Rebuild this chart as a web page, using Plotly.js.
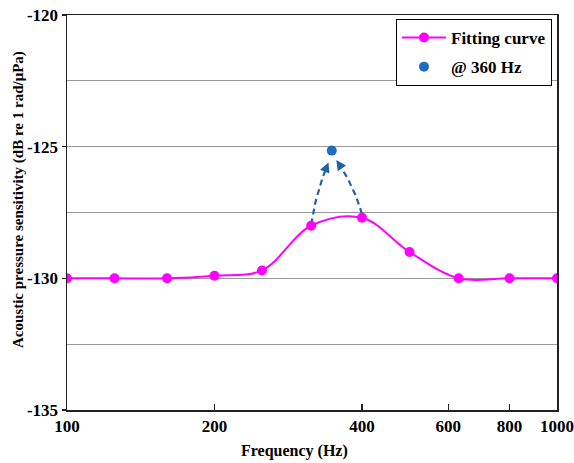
<!DOCTYPE html>
<html>
<head>
<meta charset="utf-8">
<script src="https://cdn.plot.ly/plotly-3.0.1.min.js"></script>
<style>html,body{margin:0;padding:0;background:#fff;}#chart{width:574px;height:463px;}</style>
</head>
<body>
<div id="chart"></div>
<script>
// ---- data ----
const freqHz = [100, 125, 160, 200, 250, 315, 400, 500, 630, 800, 1000];
const sensitivity = [-130.0, -130.0, -130.0, -129.9, -129.7, -128.0, -127.7, -129.0, -130.0, -130.0, -130.0];
const pointFreq = [347];
const pointSens = [-125.15];
const xTickVals = [100, 200, 400, 600, 800, 1000];
const xTickText = ['100', '200', '400', '600', '800', '1000'];
const yTickVals = [-135, -130, -125, -120];
const yTickText = ['-135', '-130', '-125', '-120'];
const arrowStartFreq = [315, 400];
const arrowStartSens = [-127.95, -127.55];

// ---- layout geometry ----
const W = 574, H = 463;
const M = {l: 67, r: 17, t: 15, b: 53};
const plotW = W - M.l - M.r, plotH = H - M.t - M.b;
const xRange = [2, 3], yRange = [-135, -120];
const pxPerDec = plotW / (xRange[1] - xRange[0]);
const pxPerUnit = plotH / (yRange[1] - yRange[0]);

const FONT = '"Liberation Serif", "Times New Roman", Times, serif';
const magenta = '#ff00ff';
const blue = '#1f6cc0';
const arrowBlue = '#1f62aa';

// curved dashed arrows (quadratic bezier in pixel space)
const arrowTraces = [];
const annots = [];
const bends = [-4, 5];
const stopFrac = [0.84, 0.85];
for (let i = 0; i < arrowStartFreq.length; i++) {
  const sx = Math.log10(arrowStartFreq[i]) * pxPerDec, sy = -arrowStartSens[i] * pxPerUnit;
  const tx0 = Math.log10(pointFreq[0]) * pxPerDec, ty0 = -pointSens[0] * pxPerUnit;
  const ex = sx + stopFrac[i] * (tx0 - sx), ey = sy + stopFrac[i] * (ty0 - sy);
  const dx = ex - sx, dy = ey - sy, len = Math.hypot(dx, dy);
  const nx = -dy / len, ny = dx / len;
  const cx = (sx + ex) / 2 + nx * bends[i], cy = (sy + ey) / 2 + ny * bends[i];
  const xs = [], ys = [];
  const N = 24;
  for (let k = 0; k <= N; k++) {
    const t = k / N;
    const px = (1 - t) * (1 - t) * sx + 2 * (1 - t) * t * cx + t * t * ex;
    const py = (1 - t) * (1 - t) * sy + 2 * (1 - t) * t * cy + t * t * ey;
    xs.push(Math.pow(10, px / pxPerDec));
    ys.push(-py / pxPerUnit);
  }
  arrowTraces.push({
    x: xs.slice(0, N - 1), y: ys.slice(0, N - 1), mode: 'lines', showlegend: false, hoverinfo: 'skip',
    line: {color: arrowBlue, width: 2.2, dash: '6px,4px'}
  });
  annots.push({
    x: Math.log10(xs[N]), y: ys[N], ax: Math.log10(xs[N - 3]), ay: ys[N - 3],
    xref: 'x', yref: 'y', axref: 'x', ayref: 'y', text: '', showarrow: true,
    arrowhead: 2, arrowsize: 1, arrowwidth: 2, arrowcolor: arrowBlue
  });
}

const traces = [
  ...arrowTraces,
  {
    x: freqHz, y: sensitivity, name: 'Fitting curve', mode: 'lines+markers',
    line: {color: magenta, width: 2, shape: 'spline', smoothing: 1},
    marker: {color: magenta, size: 10}, legendgroup: 'a'
  },
  {
    x: pointFreq, y: pointSens, name: '@ 360 Hz', mode: 'markers',
    marker: {color: blue, size: 10}, legendgroup: 'b'
  }
];

annots.push({
  xref: 'paper', yref: 'paper', x: (18 - M.l) / plotW, y: (M.t + plotH - 200) / plotH,
  text: 'Acoustic pressure sensitivity (dB re 1 rad/μPa)', textangle: -90, showarrow: false,
  font: {family: FONT, size: 15, color: '#000', weight: 700}, xanchor: 'center', yanchor: 'middle'
});
annots.push({
  xref: 'paper', yref: 'paper', x: (294 - M.l) / plotW, y: (M.t + plotH - 451) / plotH,
  text: 'Frequency (Hz)', showarrow: false,
  font: {family: FONT, size: 16, color: '#000', weight: 700}, xanchor: 'center', yanchor: 'middle'
});

const layout = {
  width: W, height: H, margin: M,
  paper_bgcolor: '#fff', plot_bgcolor: '#fff',
  font: {family: FONT, color: '#000'},
  showlegend: true,
  legend: {
    x: (396 - M.l) / plotW, y: (M.t + plotH - 19) / plotH, xanchor: 'left', yanchor: 'top',
    bgcolor: '#fff', bordercolor: '#000', borderwidth: 1,
    font: {family: FONT, size: 17, color: '#000', weight: 700},
    traceorder: 'grouped', tracegroupgap: 4, itemwidth: 44
  },
  xaxis: {
    type: 'log', range: xRange, tickvals: xTickVals, ticktext: xTickText,
    ticks: 'inside', ticklen: 6, tickwidth: 1.2, tickcolor: '#222',
    showgrid: false, zeroline: false, showline: true, linecolor: '#222', linewidth: 1.5, mirror: true,
    tickfont: {family: FONT, size: 17, color: '#000', weight: 700}
  },
  yaxis: {
    range: yRange, tickvals: yTickVals, ticktext: yTickText,
    ticks: 'outside', ticklen: 4, tickwidth: 1.2, tickcolor: '#222',
    showgrid: true, gridcolor: '#9a9a9a', gridwidth: 1,
    minor: {dtick: 2.5, showgrid: true, gridcolor: '#9a9a9a', gridwidth: 1, ticks: ''},
    zeroline: false, showline: true, linecolor: '#222', linewidth: 1.5, mirror: true,
    tickfont: {family: FONT, size: 17, color: '#000', weight: 700}
  },
  annotations: annots
};

Plotly.newPlot('chart', traces, layout, {displayModeBar: false, staticPlot: true});
</script>
</body>
</html>
